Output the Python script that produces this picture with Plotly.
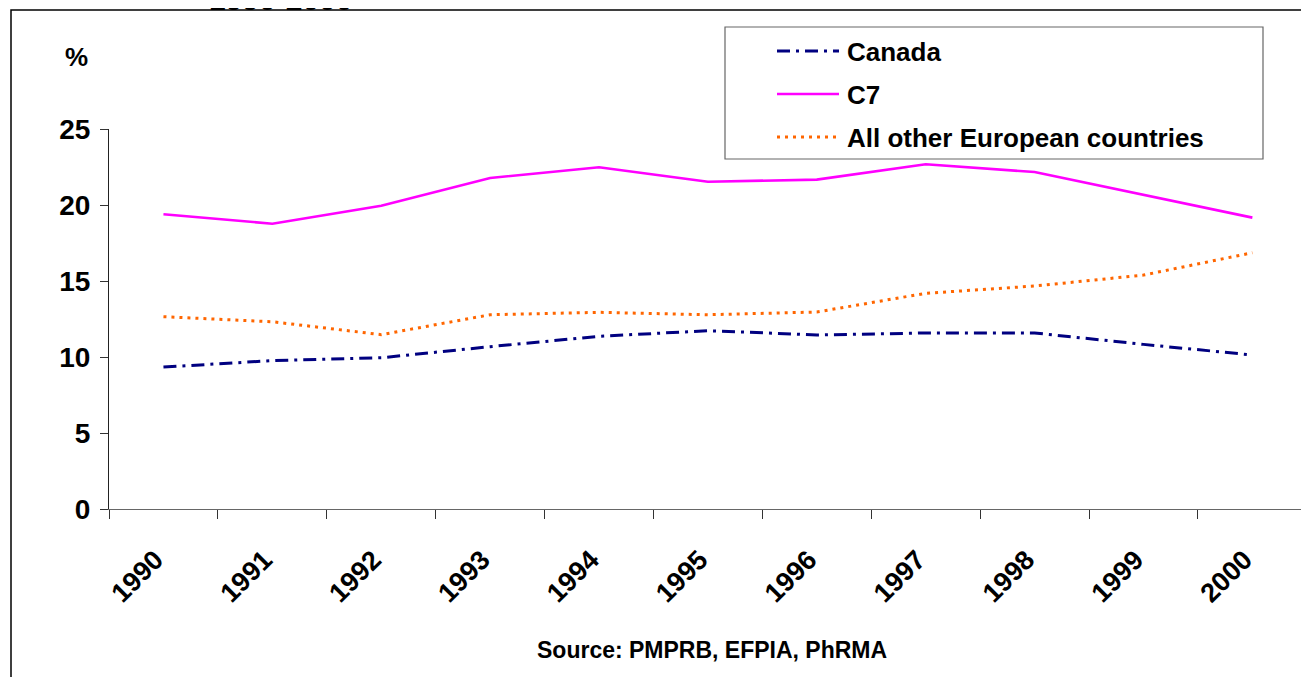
import plotly.graph_objects as go

years = ["1990", "1991", "1992", "1993", "1994", "1995", "1996", "1997", "1998", "1999", "2000"]
canada = [9.34, 9.76, 9.95, 10.68, 11.36, 11.73, 11.45, 11.58, 11.58, 10.83, 10.13]
c7 = [19.39, 18.77, 19.95, 21.78, 22.48, 21.53, 21.67, 22.68, 22.17, 20.66, 19.17]
europe = [12.65, 12.32, 11.47, 12.78, 12.94, 12.78, 12.96, 14.19, 14.67, 15.39, 16.86]
y_ticks = [0, 5, 10, 15, 20, 25]

series_names = ["Canada", "C7", "All other European countries"]
series_colors = ["#000080", "#FF00FF", "#FF6600"]
series_dash = ["13px,6px,3px,6px", "solid", "3px,5px"]
series_width = [3, 2.6, 3]

FONT = "Liberation Sans, Arial, sans-serif"

OFF = 8  # page body margin
W, H = 1309 - OFF, 677 - OFF
L, R, T, B = 109 - OFF, 0, 129 - OFF, 677 - 509
PW = W - L - R
PH = H - T - B


def px(x):
    # x given in page pixels
    return (x - OFF - L) / PW


def py(y):
    # y given in page pixels
    return (H - B - (y - OFF)) / PH


fig = go.Figure()
for name, vals, col, dash, wd in zip(series_names, [canada, c7, europe], series_colors, series_dash, series_width):
    fig.add_trace(go.Scatter(
        x=years, y=vals, mode="lines", name=name,
        line=dict(color=col, dash=dash, width=wd),
        showlegend=False,
    ))

shapes = []
annotations = []

# outer frame
shapes.append(dict(type="rect", xref="paper", yref="paper",
                   x0=px(11), x1=px(1330), y0=py(700), y1=py(10),
                   line=dict(color="black", width=1.5), fillcolor="rgba(0,0,0,0)", layer="below"))

# legend box
shapes.append(dict(type="rect", xref="paper", yref="paper",
                   x0=px(725), x1=px(1263), y0=py(159), y1=py(27),
                   line=dict(color="#666666", width=1.2), fillcolor="white"))
rows = [51, 94, 137]
for name, col, dash, wd, ry in zip(series_names, series_colors, series_dash, series_width, rows):
    shapes.append(dict(type="line", xref="paper", yref="paper",
                       x0=px(777), x1=px(839), y0=py(ry), y1=py(ry),
                       line=dict(color=col, dash=dash, width=wd)))
    annotations.append(dict(xref="paper", yref="paper", x=px(845), y=py(ry + 1),
                            xanchor="left", yanchor="middle", showarrow=False,
                            text=name, font=dict(family=FONT, size=26, color="black", weight="bold")))

# y axis unit label
annotations.append(dict(xref="paper", yref="paper", x=px(76), y=py(57),
                        xanchor="center", yanchor="middle", showarrow=False,
                        text="%", font=dict(family=FONT, size=26, color="black", weight="bold")))

# clipped title line (cut by the top edge, as in the reference)
annotations.append(dict(xref="paper", yref="paper", x=px(280), y=py(18),
                        xanchor="center", yanchor="bottom", showarrow=False,
                        text="1990-2000", font=dict(family=FONT, size=30, color="black", weight="bold")))

# source
annotations.append(dict(xref="paper", yref="paper", x=px(712), y=py(650),
                        xanchor="center", yanchor="middle", showarrow=False,
                        text="Source: PMPRB, EFPIA, PhRMA",
                        font=dict(family=FONT, size=23, color="black", weight="bold")))

fig.update_layout(
    width=W, height=H,
    margin=dict(l=L, r=R, t=T, b=B, pad=0),
    paper_bgcolor="white", plot_bgcolor="white",
    shapes=shapes, annotations=annotations,
    showlegend=False,
    xaxis=dict(type="category", range=[-0.5, 10.52], tickson="boundaries",
               ticks="outside", ticklen=9, tickcolor="#333333", tickwidth=1,
               showline=True, linecolor="#666666", linewidth=1.2,
               showgrid=False, zeroline=False, tickangle=-45,
               ticklabelstandoff=23, ticklabelshift=-8,
               tickfont=dict(family=FONT, size=27, color="black", weight="bold")),
    yaxis=dict(range=[0, 25], tickvals=y_ticks, ticktext=[str(v) for v in y_ticks],
               ticks="outside", ticklen=8, tickcolor="#333333", tickwidth=1,
               showline=True, linecolor="#222222", linewidth=1.2,
               showgrid=False, zeroline=False,
               ticklabelstandoff=4,
               tickfont=dict(family=FONT, size=28, color="black", weight="bold")),
)

fig.write_html("out.html")
